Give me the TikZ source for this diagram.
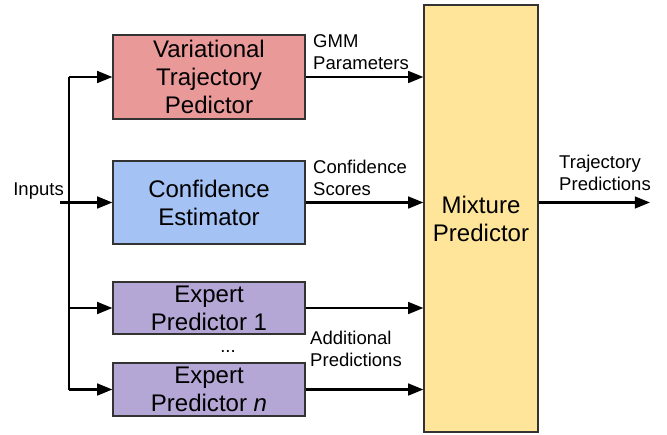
\documentclass[tikz,border=0pt]{standalone}
\usepackage{fontspec}
\setmainfont{Liberation Sans}
\usepackage{tikz}
\usetikzlibrary{arrows.meta, positioning}
\definecolor{vtpred}{HTML}{EA9999}
\definecolor{confblue}{HTML}{A4C2F4}
\definecolor{exppurple}{HTML}{B4A7D6}
\definecolor{mixyellow}{HTML}{FFE599}
\newcommand{\boxfont}{\fontsize{20.5}{23.9}\selectfont}
\newcommand{\annotfont}{\fontsize{15.8}{18.4}\selectfont}
\tikzstyle{block} = [draw=black!80, line width=1pt, minimum width=5.76cm, align=center, inner sep=0, font=\boxfont]
\tikzstyle{annot} = [align=left, inner sep=0, font=\annotfont]
\tikzstyle{flow} = [line width=2pt, -{Triangle[length=13pt, width=10pt]}]
\tikzstyle{wire} = [line width=2pt]

\begin{document}
\begin{tikzpicture}
	\useasboundingbox (0, 0) rectangle (20.01, -13.02);

	% predictors
	\node (VTP) [block, fill=vtpred, minimum height=2.52cm] at (6.27, -2.31) {Variational\\Trajectory\\Pedictor};
	\node (Conf) [block, fill=confblue, minimum height=2.49cm] at (6.27, -6.075) {Confidence\\Estimator};
	\node (E1) [block, fill=exppurple, minimum height=1.56cm] at (6.27, -9.24) {Expert\\Predictor 1};
	\node (En) [block, fill=exppurple, minimum height=1.59cm] at (6.27, -11.685) {Expert\\Predictor \textit{n}};
	\node (Dots) [annot] at (6.84, -10.56) {...};

	\node (Mix) [block, fill=mixyellow, minimum width=3.42cm, minimum height=12.81cm] at (14.43, -6.555) {Mixture\\Predictor};

	% inputs
	\node (Inputs) [annot, anchor=east] at (1.92, -5.73) {Inputs};
	\coordinate (InStart) at (1.8, -6.075);
	\coordinate (Trunk) at (2.07, -6.075);
	\draw [wire] (InStart) -- (Trunk);
	\draw [wire] (VTP.west -| Trunk) -- (En.west -| Trunk);
	\draw [flow] (VTP.west -| Trunk) -- (VTP.west);
	\draw [flow] (Trunk) -- (Conf.west);
	\draw [flow] (E1.west -| Trunk) -- (E1.west);
	\draw [flow] (En.west -| Trunk) -- (En.west);

	% into the mixture
	\draw [flow] (VTP.east) -- (VTP.east -| Mix.west);
	\node (GMM) [annot, anchor=west] at (9.39, -1.56) {GMM\\Parameters};
	\draw [flow] (Conf.east) -- (Conf.east -| Mix.west);
	\node (Scores) [annot, anchor=west] at (9.39, -5.34) {Confidence\\Scores};
	\draw [flow] (E1.east) -- (E1.east -| Mix.west);
	\draw [flow] (En.east) -- (En.east -| Mix.west);
	\node (Extra) [annot, anchor=west] at (9.3, -10.47) {Additional\\Predictions};

	% output
	\coordinate (Out) at (19.5, -6.075);
	\draw [flow] (Mix.east |- Out) -- (Out);
	\node (Traj) [annot, anchor=west] at (16.77, -5.19) {Trajectory\\Predictions};
\end{tikzpicture}
\end{document}
